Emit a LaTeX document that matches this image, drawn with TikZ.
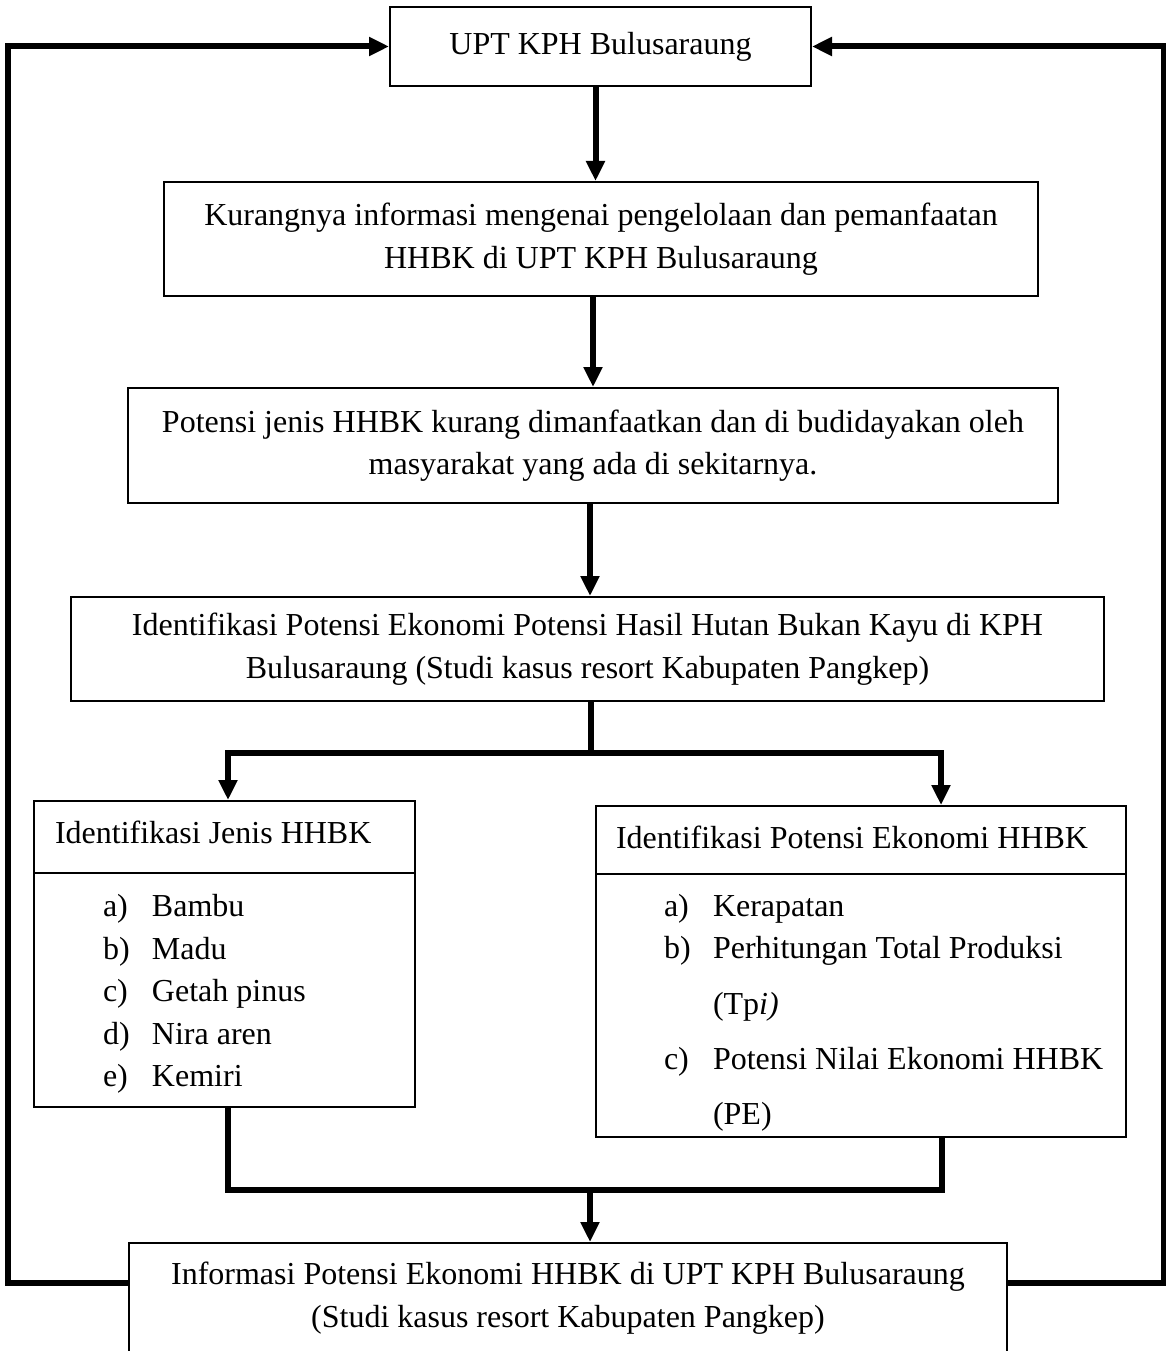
\documentclass[tikz,border=0pt]{standalone}
\usepackage{fontspec}
\setmainfont{Liberation Serif}
\usetikzlibrary{arrows.meta}
\tikzset{every picture/.style={line width=2pt}}
\tikzset{
  box/.style={draw, line width=2pt, inner sep=0pt, align=center},
  headbox/.style={draw, line width=2pt, inner xsep=21pt, inner ysep=0pt, align=left,
    execute at begin node={\spaceskip=0pt\xspaceskip=0pt}},
  listbox/.style={draw, line width=2pt, inner ysep=0pt, align=left,
    execute at begin node={\spaceskip=0pt\xspaceskip=0pt}},
  flow/.style={line width=6pt, -{Triangle[length=20pt,width=18pt]}},
  link/.style={line width=6pt}
}
\newcommand{\itm}[2]{\mbox{\makebox[49pt][l]{#1}#2}}

\begin{document}
\begin{tikzpicture}[x=1pt,y=1pt,yscale=-1,xscale=1,font=\fontsize{32}{42.5}\selectfont]
    \useasboundingbox (0,0) rectangle (1166,1351);

    % Text Node
    \node [box, minimum width=421, minimum height=79] (upt) at (600.5,46.5) {UPT KPH Bulusaraung};
    % Text Node
    \node [box, minimum width=874, minimum height=114] (kurang) at (601,239) {Kurangnya informasi mengenai pengelolaan dan pemanfaatan\\HHBK di UPT KPH Bulusaraung};
    % Text Node
    \node [box, minimum width=930, minimum height=115] (budidaya) at (593,445.5) {Potensi jenis HHBK kurang dimanfaatkan dan di budidayakan oleh\\masyarakat yang ada di sekitarnya.};
    % Text Node
    \node [box, minimum width=1033, minimum height=104] (potensi) at (587.5,649) {Identifikasi Potensi Ekonomi Potensi Hasil Hutan Bukan Kayu di KPH\\Bulusaraung (Studi kasus resort Kabupaten Pangkep)};

    % Text Node
    \node [headbox, text width=339, minimum height=72] (jenis) at (224.5,837) {Identifikasi Jenis HHBK\rule[-10pt]{0pt}{1pt}};
    \node [listbox, inner xsep=69pt, text width=243, minimum height=234] (jenisList) at (224.5,990) {\rule{0pt}{30pt}\itm{a)}{Bambu}\\\itm{b)}{Madu}\\\itm{c)}{Getah pinus}\\\itm{d)}{Nira aren}\\\itm{e)}{Kemiri}};
    % Text Node
    \node [headbox, inner xsep=20pt, text width=490, minimum height=68] (ekon) at (861,840) {Identifikasi Potensi Ekonomi HHBK\rule[-6pt]{0pt}{1pt}};
    \node [listbox, inner xsep=68pt, text width=394, minimum height=263] (ekonList) at (861,1005.5) {\rule{0pt}{36pt}\itm{a)}{Kerapatan}\\\itm{b)}{Perhitungan Total Produksi}\\[13pt]\itm{}{(Tp\textit{i)}}\\[13pt]\itm{c)}{Potensi Nilai Ekonomi HHBK}\\[12pt]\itm{}{(PE)}};

    % Text Node
    \node [box, minimum width=878, minimum height=110] (info) at (568,1298) {Informasi Potensi Ekonomi HHBK di UPT KPH Bulusaraung\\(Studi kasus resort Kabupaten Pangkep)};

    %Straight Lines
    \draw [flow] ([xshift=-5pt]upt.south) -- ([xshift=-5pt]upt.south |- kurang.north);
    \draw [flow] ([xshift=-8pt]kurang.south) -- ([xshift=-8pt]kurang.south |- budidaya.north);
    \draw [flow] ([xshift=-3pt]budidaya.south) -- ([xshift=-3pt]budidaya.south |- potensi.north);

    %Split
    \draw [link] ([xshift=3.5pt]potensi.south) -- ++(0,51) coordinate (split);
    \draw [flow] (split) -| ([xshift=3.5pt]jenis.north);
    \draw [flow] (split) -| ([xshift=80pt]ekon.north);

    %Merge
    \draw [link] ([xshift=3.5pt]jenisList.south) -- ++(0,82) -| ([xshift=81pt]ekonList.south);
    \coordinate (merge) at (590,1189);
    \draw [flow] (merge) -- (merge |- info.north);

    %Feedback
    \draw [flow] ([yshift=41pt]info.north west) -- ++(-120,0) |- (upt.west);
    \draw [flow] ([yshift=41pt]info.north east) -- ++(156,0) |- (upt.east);

\end{tikzpicture}
\end{document}
